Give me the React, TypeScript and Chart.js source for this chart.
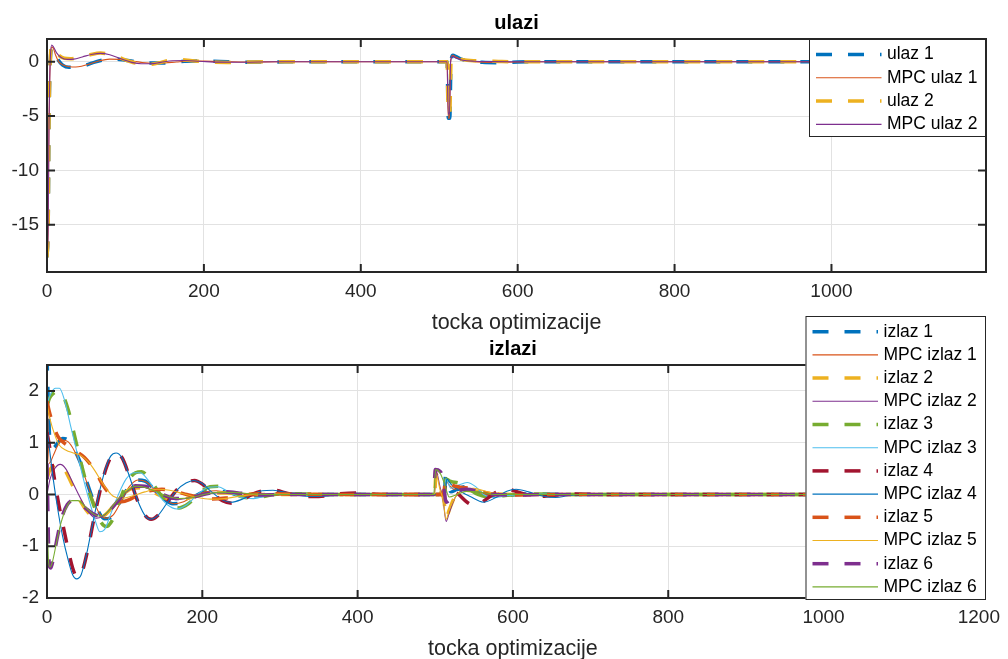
import React, { useEffect, useRef } from 'react';
import { Chart, registerables } from 'chart.js';

Chart.register(...registerables);

type P = [number, number];

// ---------- tick labels ----------
const TOP_X_TICKS = [0, 200, 400, 600, 800, 1000];
const BOTTOM_X_TICKS = [0, 200, 400, 600, 800, 1000, 1200];
const TOP_Y_TICKS = [-15, -10, -5, 0];
const BOTTOM_Y_TICKS = [-2, -1, 0, 1, 2];

// ---------- ulazi (inputs) ----------
const ulaz1: P[] = [[0,-18],[1.5,-15],[2.5,-6],[3.5,-1.5],[4.5,0.5],[6,1.3],[8,1.3],[11,0.7],[15,0.1],[20,-0.3],[28,-0.5],[38,-0.5],[50,-0.3],[62,0.0],[75,0.2],[88,0.25],[100,0.15],[115,0.0],[130,-0.12],[145,-0.12],[160,-0.05],[175,0.05],[195,0.08],[220,0.03],[250,-0.03],[290,-0.01],[340,0.01],[420,0],[510,0],[511.5,-5.2],[513.5,-5.2],[515,0],[517.5,0.6],[521,0.5],[528,0.25],[540,0.08],[555,-0.05],[575,-0.08],[600,-0.02],[640,0.01],[700,0],[1000,0]];
const mpcUlaz1: P[] = [[0,-18],[1.5,-15],[2.5,-6],[3.5,-1.5],[4.5,0.6],[6,1.35],[8,1.25],[11,0.6],[15,0.0],[22,-0.35],[32,-0.48],[40,-0.46],[52,-0.25],[65,0.05],[80,0.25],[92,0.22],[105,0.1],[120,-0.05],[135,-0.13],[150,-0.1],[165,-0.02],[180,0.05],[200,0.06],[225,0.02],[255,-0.02],[300,0],[510,0],[511.5,-5.2],[513,-5.2],[514.5,0],[517,0.6],[521,0.45],[528,0.22],[540,0.06],[555,-0.04],[575,-0.06],[600,-0.02],[650,0],[1000,0]];
const ulaz2: P[] = [[0,-18],[1.5,-15],[2.5,-6],[3.5,-1.5],[4.5,0.6],[6,1.5],[8,1.4],[11,1.0],[16,0.55],[22,0.32],[30,0.28],[40,0.4],[55,0.65],[68,0.8],[80,0.7],[92,0.4],[105,0.05],[118,-0.2],[130,-0.25],[142,-0.1],[155,0.12],[168,0.2],[185,0.1],[205,-0.02],[230,-0.06],[260,-0.02],[300,0.01],[360,0],[510,0],[511.5,-4.8],[513.5,-4.8],[515,0],[517.5,0.5],[521,0.4],[530,0.2],[545,0.1],[560,0.08],[580,0.02],[620,0],[1000,0]];
const mpcUlaz2: P[] = [[0,-18],[1.5,-15],[2.5,-6],[3.5,-1.5],[4.5,0.7],[6,1.55],[8,1.4],[12,0.85],[18,0.4],[26,0.22],[34,0.25],[45,0.45],[58,0.7],[68,0.78],[80,0.65],[95,0.25],[108,-0.05],[120,-0.18],[132,-0.18],[145,-0.05],[160,0.1],[175,0.12],[195,0.05],[220,-0.03],[250,-0.04],[290,0],[510,0],[511.5,-4.8],[513,-4.8],[514.5,0],[517,0.5],[521,0.35],[530,0.15],[545,0.05],[565,0.02],[600,0],[1000,0]];

// ---------- izlazi (outputs) ----------
const izlaz1: P[] = [[0,2.7],[2,1.6],[4,1.0],[8,0.9],[14,1.0],[20,1.08],[26,1.06],[33,0.92],[42,0.65],[50,0.3],[58,-0.05],[66,-0.32],[74,-0.47],[82,-0.45],[92,-0.2],[104,0.12],[115,0.28],[126,0.26],[138,0.1],[150,-0.08],[162,-0.18],[174,-0.16],[188,-0.05],[202,0.05],[216,0.08],[235,0.03],[255,-0.03],[280,-0.02],[310,0.01],[360,0],[512,0],[513,0.35],[516,0.25],[520,0.05],[528,0.1],[540,0.15],[555,0.05],[570,-0.03],[590,-0.02],[620,0.01],[680,0],[1000,0]];
const mpcIzlaz1: P[] = [[0,2.7],[1,1.5],[3,0.6],[8,0.75],[14,0.95],[20,1.05],[27,1.02],[35,0.85],[44,0.55],[52,0.2],[60,-0.12],[68,-0.38],[76,-0.46],[85,-0.4],[95,-0.15],[106,0.15],[117,0.28],[128,0.24],[140,0.07],[152,-0.1],[164,-0.18],[176,-0.14],[190,-0.03],[204,0.05],[218,0.07],[238,0.02],[260,-0.03],[290,-0.01],[330,0],[512,0],[513.5,0.3],[517,0.2],[525,0.1],[540,0.12],[555,0.04],[575,-0.03],[600,-0.01],[660,0],[1000,0]];
const izlaz2: P[] = [[0,0.3],[3,0.45],[8,0.55],[15,0.6],[22,0.5],[32,0.2],[42,-0.1],[52,-0.33],[62,-0.44],[72,-0.42],[84,-0.25],[98,0.0],[110,0.12],[122,0.13],[136,0.05],[150,-0.05],[165,-0.1],[180,-0.08],[195,-0.02],[215,0.03],[240,0.03],[270,0],[320,0],[499,0],[501,0.4],[506,0.1],[511,-0.1],[514,-0.45],[518,-0.3],[525,-0.05],[535,0.08],[550,0.07],[570,0.02],[600,0],[1000,0]];
const mpcIzlaz2: P[] = [[0,0],[4,0.3],[10,0.5],[17,0.58],[24,0.5],[34,0.2],[44,-0.1],[54,-0.35],[64,-0.46],[74,-0.4],[86,-0.2],[100,0.02],[112,0.13],[125,0.14],[138,0.05],[152,-0.05],[166,-0.1],[182,-0.07],[198,-0.01],[218,0.03],[245,0.02],[280,0],[499,0],[501,0.45],[506,0.15],[510,-0.1],[514,-0.52],[518,-0.35],[526,-0.05],[536,0.07],[552,0.05],[575,0.01],[610,0],[1000,0]];
const izlaz3: P[] = [[0,1.7],[3,1.85],[8,1.95],[15,2.0],[21,1.9],[28,1.6],[36,1.1],[44,0.6],[52,0.15],[60,-0.2],[68,-0.5],[76,-0.62],[84,-0.5],[94,-0.1],[104,0.25],[114,0.42],[122,0.44],[132,0.3],[145,0.02],[158,-0.2],[170,-0.26],[182,-0.18],[196,0.02],[210,0.15],[222,0.16],[236,0.06],[252,-0.05],[268,-0.07],[285,-0.02],[305,0.02],[330,0.01],[370,0],[510,0],[514,0.3],[520,0.25],[530,0.22],[542,0.12],[555,0.0],[570,-0.05],[590,-0.02],[620,0.01],[680,0],[1000,0]];
const mpcIzlaz3: P[] = [[0,1.75],[5,1.95],[11,2.05],[16,2.05],[22,1.85],[30,1.35],[38,0.85],[46,0.35],[54,-0.1],[62,-0.5],[68,-0.72],[74,-0.68],[82,-0.38],[92,0.0],[102,0.3],[112,0.42],[120,0.42],[130,0.28],[142,0.02],[155,-0.2],[167,-0.28],[180,-0.2],[194,0.0],[208,0.14],[220,0.15],[234,0.05],[250,-0.06],[266,-0.08],[283,-0.02],[302,0.02],[330,0.01],[370,0],[510,0],[514,0.3],[520,0.12],[530,0.18],[541,0.23],[552,0.15],[562,0.0],[575,-0.06],[595,-0.02],[630,0.01],[680,0],[1000,0]];
const izlaz4: P[] = [[0,1.2],[3,0.95],[8,0.45],[14,-0.1],[20,-0.55],[27,-1.05],[33,-1.42],[39,-1.6],[45,-1.5],[52,-1.1],[60,-0.5],[68,0.05],[76,0.5],[83,0.74],[90,0.8],[97,0.7],[106,0.35],[116,-0.1],[126,-0.4],[134,-0.48],[143,-0.4],[155,-0.15],[168,0.1],[180,0.23],[190,0.27],[200,0.2],[213,0.02],[226,-0.12],[238,-0.17],[250,-0.12],[264,0.0],[278,0.07],[292,0.08],[310,0.02],[330,-0.04],[350,-0.04],[375,0.01],[400,0.03],[430,0.0],[510,0],[514,0.2],[520,0.1],[530,0.0],[541,-0.15],[552,-0.22],[565,-0.1],[578,0.04],[592,0.1],[608,0.04],[628,-0.04],[650,-0.02],[680,0.01],[720,0],[1000,0]];
const mpcIzlaz4: P[] = [[0,1.25],[3,0.9],[8,0.3],[14,-0.3],[20,-0.8],[27,-1.25],[33,-1.55],[38,-1.63],[44,-1.55],[51,-1.15],[59,-0.55],[67,0.02],[75,0.48],[82,0.74],[89,0.8],[96,0.72],[105,0.4],[115,-0.05],[125,-0.38],[133,-0.48],[142,-0.42],[154,-0.18],[167,0.08],[179,0.22],[189,0.27],[199,0.22],[212,0.05],[225,-0.1],[237,-0.15],[250,-0.1],[263,0.0],[277,0.07],[291,0.08],[310,0.03],[330,-0.03],[350,-0.04],[375,0.0],[400,0.02],[430,0],[512,0],[515,0.3],[520,0.2],[530,0.08],[545,-0.04],[562,-0.15],[578,-0.06],[592,0.06],[604,0.1],[620,0.05],[638,-0.03],[655,-0.06],[672,-0.02],[700,0.01],[740,0],[1000,0]];
const izlaz5: P[] = [[0,1.8],[3,1.6],[8,1.35],[14,1.12],[20,1.02],[28,0.93],[38,0.83],[48,0.72],[56,0.58],[64,0.4],[72,0.18],[80,0.02],[88,-0.1],[96,-0.14],[106,-0.1],[118,0.0],[132,0.07],[148,0.1],[164,0.06],[180,0.0],[196,-0.06],[212,-0.09],[230,-0.07],[250,-0.02],[275,0.02],[310,0.01],[360,0],[510,0],[514,0.3],[520,0.2],[532,0.14],[545,0.12],[560,0.05],[580,0.0],[610,-0.01],[660,0],[1000,0]];
const mpcIzlaz5: P[] = [[0,1.75],[4,1.45],[10,1.15],[16,0.95],[24,0.86],[34,0.8],[44,0.75],[54,0.62],[62,0.45],[70,0.25],[78,0.08],[86,-0.04],[96,-0.08],[110,-0.03],[126,0.05],[142,0.1],[158,0.08],[174,0.02],[192,-0.05],[210,-0.09],[228,-0.08],[250,-0.03],[275,0.01],[310,0.01],[360,0],[499,0],[501,0.4],[506,0.1],[510,-0.1],[514,-0.48],[518,-0.3],[526,-0.05],[536,0.1],[550,0.12],[565,0.06],[585,0.0],[620,0],[1000,0]];
const izlaz6: P[] = [[0,0.6],[1,-0.2],[2,-1.0],[3,-1.38],[5,-1.42],[8,-1.25],[13,-0.85],[19,-0.45],[26,-0.2],[33,-0.12],[40,-0.14],[50,-0.27],[60,-0.38],[68,-0.42],[78,-0.35],[90,-0.15],[102,0.05],[114,0.17],[126,0.16],[138,0.08],[152,-0.02],[166,-0.08],[180,-0.08],[196,-0.02],[212,0.03],[230,0.05],[252,0.02],[280,-0.01],[320,0],[498,0],[500,0.48],[506,0.45],[510,0.3],[514,-0.15],[519,-0.1],[527,0.05],[540,0.1],[556,0.06],[575,0.0],[600,-0.01],[650,0],[1000,0]];
const mpcIzlaz6: P[] = [[0,-0.2],[1,-0.9],[2,-1.3],[4,-1.4],[7,-1.3],[12,-0.95],[18,-0.55],[25,-0.25],[32,-0.12],[40,-0.12],[50,-0.25],[60,-0.38],[68,-0.42],[78,-0.34],[90,-0.12],[103,0.07],[115,0.16],[128,0.13],[141,0.05],[155,-0.03],[170,-0.08],[186,-0.06],[202,0.0],[220,0.04],[240,0.04],[265,0.01],[300,0],[498,0],[500.5,0.48],[506,0.42],[512,0.2],[518,-0.05],[528,0.0],[540,0.06],[556,0.05],[575,0.0],[610,0],[1000,0]];

// ---------- styles ----------
const C = {
  blue: '#0072BD', orange: '#D95319', yellow: '#EDB120', purple: '#7E2F8E',
  green: '#77AC30', cyan: '#4DBEEE', red: '#A2142F',
};
const FONT = '"Liberation Sans", Arial, Helvetica, sans-serif';

type Series = { label: string; data: P[]; color: string; dashed: boolean };

const TOP_SERIES: Series[] = [
  { label: 'ulaz 1', data: ulaz1, color: C.blue, dashed: true },
  { label: 'MPC ulaz 1', data: mpcUlaz1, color: C.orange, dashed: false },
  { label: 'ulaz 2', data: ulaz2, color: C.yellow, dashed: true },
  { label: 'MPC ulaz 2', data: mpcUlaz2, color: C.purple, dashed: false },
];
const BOTTOM_SERIES: Series[] = [
  { label: 'izlaz 1', data: izlaz1, color: C.blue, dashed: true },
  { label: 'MPC izlaz 1', data: mpcIzlaz1, color: C.orange, dashed: false },
  { label: 'izlaz 2', data: izlaz2, color: C.yellow, dashed: true },
  { label: 'MPC izlaz 2', data: mpcIzlaz2, color: C.purple, dashed: false },
  { label: 'izlaz 3', data: izlaz3, color: C.green, dashed: true },
  { label: 'MPC izlaz 3', data: mpcIzlaz3, color: C.cyan, dashed: false },
  { label: 'izlaz 4', data: izlaz4, color: C.red, dashed: true },
  { label: 'MPC izlaz 4', data: mpcIzlaz4, color: C.blue, dashed: false },
  { label: 'izlaz 5', data: izlaz5, color: C.orange, dashed: true },
  { label: 'MPC izlaz 5', data: mpcIzlaz5, color: C.yellow, dashed: false },
  { label: 'izlaz 6', data: izlaz6, color: C.purple, dashed: true },
  { label: 'MPC izlaz 6', data: mpcIzlaz6, color: C.green, dashed: false },
];

const DASH = [16, 16];
const DASH_W = 3.5;
const THIN_W = 1.1;

type Box = { left: number; top: number; right: number; bottom: number; firstRow: number; rowH: number };

function framePlugin(title: string, xlabel: string, series: Series[], box: Box) {
  return {
    id: 'matlabFrame',
    afterDraw(chart: any) {
      const { ctx, chartArea: a, scales } = chart;
      ctx.save();
      // axes box
      ctx.strokeStyle = '#262626';
      ctx.lineWidth = 2;
      ctx.setLineDash([]);
      ctx.strokeRect(a.left, a.top, a.right - a.left, a.bottom - a.top);
      // inward tick marks
      ctx.beginPath();
      scales.x.ticks.forEach((t: any) => {
        const px = scales.x.getPixelForValue(t.value);
        ctx.moveTo(px, a.bottom); ctx.lineTo(px, a.bottom - 8);
        ctx.moveTo(px, a.top); ctx.lineTo(px, a.top + 8);
      });
      scales.y.ticks.forEach((t: any) => {
        const py = scales.y.getPixelForValue(t.value);
        ctx.moveTo(a.left, py); ctx.lineTo(a.left + 8, py);
        ctx.moveTo(a.right, py); ctx.lineTo(a.right - 8, py);
      });
      ctx.stroke();
      const cx = (a.left + a.right) / 2;
      // title
      ctx.fillStyle = '#000';
      ctx.textAlign = 'center';
      ctx.textBaseline = 'middle';
      ctx.font = `bold 20px ${FONT}`;
      ctx.fillText(title, cx, a.top - 16);
      // x label
      ctx.fillStyle = '#262626';
      ctx.font = `21.5px ${FONT}`;
      ctx.fillText(xlabel, cx, a.bottom + 51);
      // legend
      ctx.fillStyle = '#fff';
      ctx.fillRect(box.left, box.top, box.right - box.left, box.bottom - box.top);
      ctx.strokeStyle = '#262626';
      ctx.lineWidth = 1;
      ctx.strokeRect(box.left + 0.5, box.top + 0.5, box.right - box.left - 1, box.bottom - box.top - 1);
      ctx.font = `17.5px ${FONT}`;
      ctx.textAlign = 'left';
      series.forEach((s, i) => {
        const y = box.top + box.firstRow + i * box.rowH;
        ctx.beginPath();
        ctx.strokeStyle = s.color;
        ctx.lineWidth = s.dashed ? DASH_W : THIN_W;
        ctx.lineCap = 'butt';
        ctx.setLineDash(s.dashed ? DASH : []);
        ctx.moveTo(box.left + 7, y);
        ctx.lineTo(box.left + 72.5, y);
        ctx.stroke();
        ctx.setLineDash([]);
        ctx.fillStyle = '#000';
        ctx.fillText(s.label, box.left + 78, y);
      });
      ctx.restore();
    },
  };
}

function makeConfig(
  series: Series[], xMax: number, yMin: number, yMax: number,
  xTicks: number[], yTicks: number[], padding: any, plugin: any,
) {
  return {
    type: 'line' as const,
    data: {
      datasets: series.map((s, i) => ({
        label: s.label,
        data: s.data.map(([x, y]) => ({ x, y })),
        borderColor: s.color,
        backgroundColor: s.color,
        borderWidth: s.dashed ? DASH_W : THIN_W,
        borderDash: s.dashed ? DASH : [],
        borderCapStyle: 'butt',
        pointRadius: 0,
        fill: false,
        cubicInterpolationMode: 'monotone',
        order: -i,
      })),
    },
    options: {
      responsive: false,
      animation: false,
      devicePixelRatio: 1,
      events: [],
      layout: { padding },
      plugins: { legend: { display: false }, tooltip: { enabled: false }, title: { display: false } },
      scales: {
        x: {
          type: 'linear',
          min: 0,
          max: xMax,
          afterBuildTicks: (s: any) => { s.ticks = xTicks.map((v) => ({ value: v })); },
          afterFit: (s: any) => { s.height = 40; },
          grid: { color: '#e2e2e2', lineWidth: 1, drawTicks: false },
          border: { display: false },
          ticks: {
            color: '#262626', font: { family: FONT, size: 19 }, padding: 8,
            maxRotation: 0, autoSkip: false, callback: (v: any) => String(v),
          },
        },
        y: {
          type: 'linear',
          min: yMin,
          max: yMax,
          afterBuildTicks: (s: any) => { s.ticks = yTicks.map((v) => ({ value: v })); },
          afterFit: (s: any) => { s.width = 47; },
          grid: { color: '#e2e2e2', lineWidth: 1, drawTicks: false },
          border: { display: false },
          ticks: {
            color: '#262626', font: { family: FONT, size: 19 }, padding: 8,
            autoSkip: false, callback: (v: any) => String(v),
          },
        },
      },
    },
    plugins: [plugin],
  };
}

export default function App() {
  const topRef = useRef<HTMLCanvasElement>(null);
  const botRef = useRef<HTMLCanvasElement>(null);

  useEffect(() => {
    const top = new Chart(
      topRef.current as HTMLCanvasElement,
      makeConfig(
        TOP_SERIES, 1197, -19.35, 2.1, TOP_X_TICKS, TOP_Y_TICKS,
        { left: 0, right: 22, top: 39, bottom: 347 },
        framePlugin('ulazi', 'tocka optimizacije', TOP_SERIES,
          { left: 809, top: 39, right: 986, bottom: 137, firstRow: 15.5, rowH: 23.3 }),
      ) as any,
    );
    const bot = new Chart(
      botRef.current as HTMLCanvasElement,
      makeConfig(
        BOTTOM_SERIES, 1200, -2, 2.5, BOTTOM_X_TICKS, BOTTOM_Y_TICKS,
        { left: 0, right: 22, top: 365, bottom: 21 },
        framePlugin('izlazi', 'tocka optimizacije', BOTTOM_SERIES,
          { left: 805.5, top: 316, right: 986, bottom: 600, firstRow: 15.7, rowH: 23.2 }),
      ) as any,
    );
    return () => { top.destroy(); bot.destroy(); };
  }, []);

  return (
    <div style={{ position: 'fixed', left: 0, top: 0, width: 1008, height: 659, background: '#fff' }}>
      <canvas ref={topRef} width={1008} height={659} style={{ position: 'absolute', left: 0, top: 0 }} />
      <canvas ref={botRef} width={1008} height={659} style={{ position: 'absolute', left: 0, top: 0 }} />
    </div>
  );
}
